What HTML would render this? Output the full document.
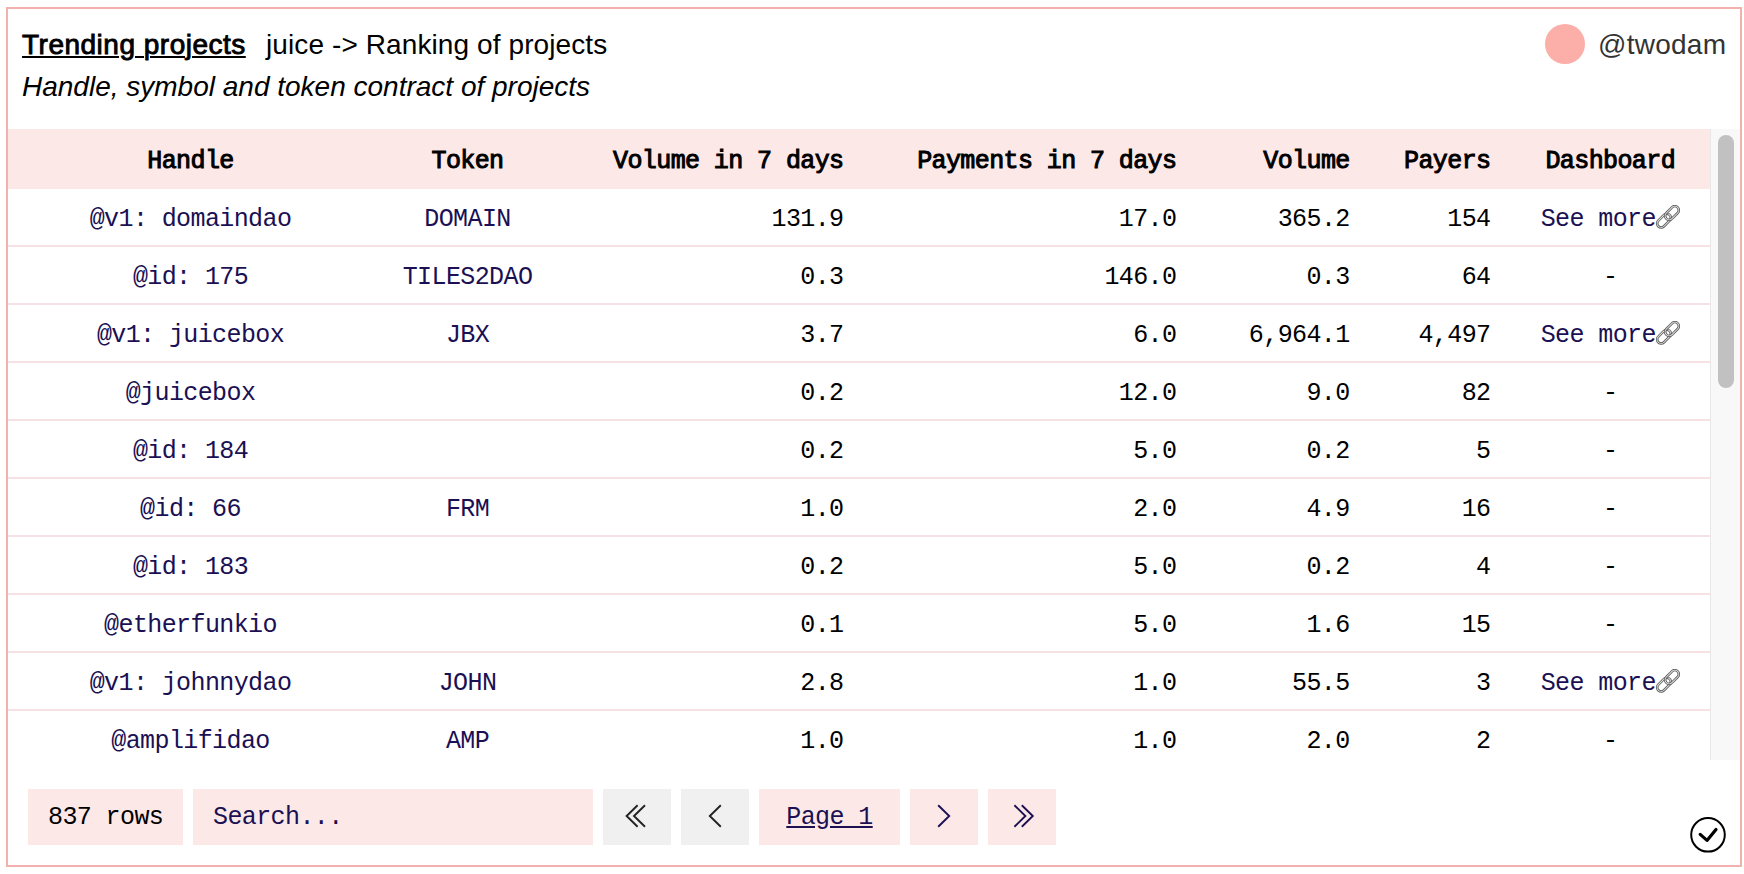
<!DOCTYPE html>
<html>
<head>
<meta charset="utf-8">
<style>
*{box-sizing:border-box;margin:0;padding:0}
html,body{width:1744px;height:874px;background:#fff;overflow:hidden}
body{position:relative;font-family:"Liberation Sans",sans-serif;color:#000}
.frame{position:absolute;left:6px;top:7px;width:1736px;height:860px;border:2px solid #f2b1ac}
.t{position:absolute;white-space:pre;line-height:1}
.title{left:22px;top:31px;font-size:28px;font-weight:normal;-webkit-text-stroke:0.9px #000;text-decoration:underline;text-decoration-thickness:2px;text-underline-offset:2px;letter-spacing:0.5px}
.sub{left:266px;top:31px;font-size:28px;letter-spacing:0.1px}
.desc{left:22px;top:73px;font-size:28px;font-style:italic}
.avatar{position:absolute;left:1545px;top:24px;width:40px;height:40px;border-radius:50%;background:#fcaea8}
.user{left:1598px;top:31px;font-size:28px;color:#333;letter-spacing:0.25px}
.wrap{position:absolute;left:8px;top:129px;width:1732px;height:631px;overflow:hidden}
table{position:absolute;left:0;top:0;width:1702px;border-collapse:separate;border-spacing:0;table-layout:fixed;font-family:"Liberation Mono",monospace;font-size:25px;letter-spacing:-0.6px}
th{height:60px;background:#fde8e8;font-weight:normal;-webkit-text-stroke:1px #000;padding:21px 0 0;line-height:24px;vertical-align:top;white-space:pre}
td{height:58px;border-bottom:2px solid #f6e2e4;padding:19px 0 0;line-height:24px;vertical-align:top;white-space:pre;color:#000}
.c{text-align:center}.r{text-align:right;padding-right:10px}
td:last-child,th:last-child{padding-left:10px}
td.n{color:#1a1053}
.sb{position:absolute;left:1702px;top:0;width:30px;height:631px;background:#f8f8f8;border-left:1px solid #e8e8e8}
.thumb{position:absolute;left:7px;top:6px;width:16px;height:253px;border-radius:8px;background:#c1c1c1}
.ctl{position:absolute;top:789px;height:56px;background:#fde8e8;font-family:"Liberation Mono",monospace;font-size:25px;letter-spacing:-0.6px;line-height:57px;white-space:pre}
.gray{background:#f0f0f0}
.navy{color:#1a1053}
.lk{display:inline-block;vertical-align:top;margin-top:-3px}
.ico{position:absolute;left:0;top:0}
</style>
</head>
<body>
<div class="frame"></div>
<div class="t title">Trending projects</div>
<div class="t sub">juice -&gt; Ranking of projects</div>
<div class="t desc">Handle, symbol and token contract of projects</div>
<div class="avatar"></div>
<div class="t user">@twodam</div>

<div class="wrap">
<table>
<colgroup>
<col style="width:365px"><col style="width:189px"><col style="width:291.5px"><col style="width:332.9px"><col style="width:173.3px"><col style="width:140.8px"><col style="width:209.5px">
</colgroup>
<thead><tr><th class="c">Handle</th><th class="c">Token</th><th class="r">Volume in 7 days</th><th class="r">Payments in 7 days</th><th class="r">Volume</th><th class="r">Payers</th><th class="c">Dashboard</th></tr></thead>
<tbody>
<tr><td class="c n">@v1: domaindao</td><td class="c n">DOMAIN</td><td class="r">131.9</td><td class="r">17.0</td><td class="r">365.2</td><td class="r">154</td><td class="c n">See more<svg class="lk" width="24" height="24" viewBox="0 0 24 24"><g fill="none"><rect x="-8" y="-4" width="16" height="8" rx="4" transform="translate(8 15.6) rotate(-45)" stroke="#5c5c5c" stroke-width="2.6"/><rect x="-8" y="-4" width="16" height="8" rx="4" transform="translate(8 15.6) rotate(-45)" stroke="#e4e4e4" stroke-width="1"/><rect x="-8" y="-4" width="16" height="8" rx="4" transform="translate(16 8) rotate(-45)" stroke="#5c5c5c" stroke-width="2.6"/><rect x="-8" y="-4" width="16" height="8" rx="4" transform="translate(16 8) rotate(-45)" stroke="#e4e4e4" stroke-width="1"/></g></svg></td></tr>
<tr><td class="c n">@id: 175</td><td class="c n">TILES2DAO</td><td class="r">0.3</td><td class="r">146.0</td><td class="r">0.3</td><td class="r">64</td><td class="c">-</td></tr>
<tr><td class="c n">@v1: juicebox</td><td class="c n">JBX</td><td class="r">3.7</td><td class="r">6.0</td><td class="r">6,964.1</td><td class="r">4,497</td><td class="c n">See more<svg class="lk" width="24" height="24" viewBox="0 0 24 24"><g fill="none"><rect x="-8" y="-4" width="16" height="8" rx="4" transform="translate(8 15.6) rotate(-45)" stroke="#5c5c5c" stroke-width="2.6"/><rect x="-8" y="-4" width="16" height="8" rx="4" transform="translate(8 15.6) rotate(-45)" stroke="#e4e4e4" stroke-width="1"/><rect x="-8" y="-4" width="16" height="8" rx="4" transform="translate(16 8) rotate(-45)" stroke="#5c5c5c" stroke-width="2.6"/><rect x="-8" y="-4" width="16" height="8" rx="4" transform="translate(16 8) rotate(-45)" stroke="#e4e4e4" stroke-width="1"/></g></svg></td></tr>
<tr><td class="c n">@juicebox</td><td class="c n"></td><td class="r">0.2</td><td class="r">12.0</td><td class="r">9.0</td><td class="r">82</td><td class="c">-</td></tr>
<tr><td class="c n">@id: 184</td><td class="c n"></td><td class="r">0.2</td><td class="r">5.0</td><td class="r">0.2</td><td class="r">5</td><td class="c">-</td></tr>
<tr><td class="c n">@id: 66</td><td class="c n">FRM</td><td class="r">1.0</td><td class="r">2.0</td><td class="r">4.9</td><td class="r">16</td><td class="c">-</td></tr>
<tr><td class="c n">@id: 183</td><td class="c n"></td><td class="r">0.2</td><td class="r">5.0</td><td class="r">0.2</td><td class="r">4</td><td class="c">-</td></tr>
<tr><td class="c n">@etherfunkio</td><td class="c n"></td><td class="r">0.1</td><td class="r">5.0</td><td class="r">1.6</td><td class="r">15</td><td class="c">-</td></tr>
<tr><td class="c n">@v1: johnnydao</td><td class="c n">JOHN</td><td class="r">2.8</td><td class="r">1.0</td><td class="r">55.5</td><td class="r">3</td><td class="c n">See more<svg class="lk" width="24" height="24" viewBox="0 0 24 24"><g fill="none"><rect x="-8" y="-4" width="16" height="8" rx="4" transform="translate(8 15.6) rotate(-45)" stroke="#5c5c5c" stroke-width="2.6"/><rect x="-8" y="-4" width="16" height="8" rx="4" transform="translate(8 15.6) rotate(-45)" stroke="#e4e4e4" stroke-width="1"/><rect x="-8" y="-4" width="16" height="8" rx="4" transform="translate(16 8) rotate(-45)" stroke="#5c5c5c" stroke-width="2.6"/><rect x="-8" y="-4" width="16" height="8" rx="4" transform="translate(16 8) rotate(-45)" stroke="#e4e4e4" stroke-width="1"/></g></svg></td></tr>
<tr><td class="c n">@amplifidao</td><td class="c n">AMP</td><td class="r">1.0</td><td class="r">1.0</td><td class="r">2.0</td><td class="r">2</td><td class="c">-</td></tr>
</tbody>
</table>
<div class="sb"><div class="thumb"></div></div>
</div>

<div class="ctl" style="left:28px;width:155px;padding-left:20px">837 rows</div>
<div class="ctl navy" style="left:193px;width:400px;padding-left:20px">Search...</div>
<div class="ctl gray" style="left:603px;width:68px"><svg class="ico" width="68" height="56" viewBox="603 789 68 56"><path d="M637.6 805.2L626.6 816L637.6 826.8M645 805.2L634 816L645 826.8" fill="none" stroke="#222" stroke-width="1.9"/></svg></div>
<div class="ctl gray" style="left:681px;width:68px"><svg class="ico" width="68" height="56" viewBox="681 789 68 56"><path d="M720.8 805.2L709.8 816L720.8 826.8" fill="none" stroke="#222" stroke-width="1.9"/></svg></div>
<div class="ctl navy" style="left:759px;width:141px;text-align:center;text-decoration:underline">Page 1</div>
<div class="ctl" style="left:910px;width:68px"><svg class="ico" width="68" height="56" viewBox="910 789 68 56"><path d="M938.2 805.2L949.2 816L938.2 826.8" fill="none" stroke="#1a1053" stroke-width="1.9"/></svg></div>
<div class="ctl" style="left:988px;width:68px"><svg class="ico" width="68" height="56" viewBox="988 789 68 56"><path d="M1014.4 805.2L1025.4 816L1014.4 826.8M1021.8 805.2L1032.8 816L1021.8 826.8" fill="none" stroke="#1a1053" stroke-width="1.9"/></svg></div>
<svg style="position:absolute;left:1688px;top:815px" width="40" height="40" viewBox="1688 815 40 40"><circle cx="1708" cy="834.8" r="16.8" fill="none" stroke="#000" stroke-width="2"/><path d="M1700.2 834.4L1707 840.4L1716 829.4" fill="none" stroke="#000" stroke-width="3.2" stroke-linecap="round" stroke-linejoin="round"/></svg>
</body>
</html>
